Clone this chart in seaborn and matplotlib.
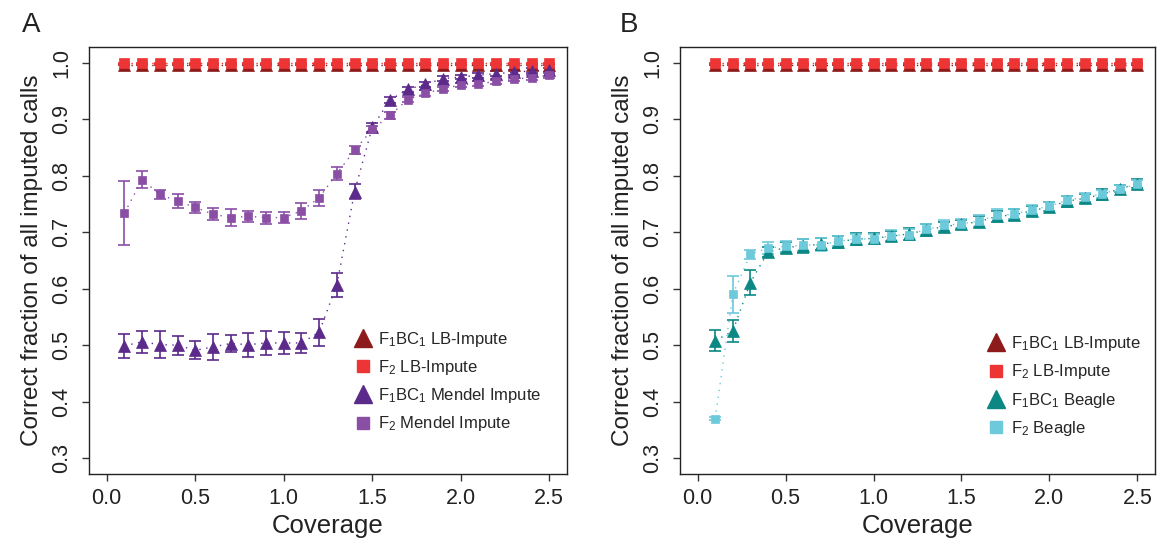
import numpy as np
import pandas as pd
import matplotlib
matplotlib.use("Agg")
import matplotlib.pyplot as plt
import seaborn as sns
from matplotlib.lines import Line2D

# Data

coverage = [0.1, 0.2, 0.3, 0.4, 0.5, 0.6, 0.7, 0.8, 0.9, 1.0, 1.1, 1.2, 1.3,
            1.4, 1.5, 1.6, 1.7, 1.8, 1.9, 2.0, 2.1, 2.2, 2.3, 2.4, 2.5]

lb_f1bc1 = [0.997] * 25
lb_f2 = [0.999] * 25
lb_f1bc1_err = [0.001] * 25
lb_f2_err = [0.001] * 25

mendel_f1bc1 = [0.499, 0.506, 0.501, 0.500, 0.491, 0.497, 0.503, 0.501, 0.504,
                0.504, 0.504, 0.523, 0.607, 0.772, 0.886, 0.934, 0.953, 0.962,
                0.972, 0.975, 0.978, 0.981, 0.983, 0.986, 0.987]
mendel_f1bc1_err = [0.0215, 0.019, 0.0235, 0.017, 0.016, 0.0226, 0.0147, 0.021,
                    0.0206, 0.0197, 0.0176, 0.024, 0.0215, 0.0135, 0.008, 0.006,
                    0.005, 0.004, 0.004, 0.004, 0.004, 0.004, 0.004, 0.004, 0.004]

mendel_f2 = [0.734, 0.793, 0.767, 0.755, 0.744, 0.732, 0.726, 0.728, 0.726,
             0.726, 0.738, 0.761, 0.804, 0.845, 0.882, 0.907, 0.935, 0.946,
             0.954, 0.961, 0.963, 0.967, 0.971, 0.974, 0.978]
mendel_f2_err = [0.0565, 0.015, 0.008, 0.0125, 0.010, 0.011, 0.0148, 0.010,
                 0.0105, 0.0095, 0.014, 0.0142, 0.0123, 0.007, 0.007, 0.006,
                 0.005, 0.005, 0.004, 0.004, 0.004, 0.004, 0.004, 0.004, 0.004]

beagle_f1bc1 = [0.508, 0.525, 0.611, 0.665, 0.673, 0.676, 0.679, 0.683, 0.688,
                0.689, 0.693, 0.697, 0.704, 0.710, 0.714, 0.719, 0.728, 0.731,
                0.738, 0.745, 0.755, 0.760, 0.767, 0.777, 0.786]
beagle_f1bc1_err = [0.019, 0.020, 0.022, 0.009, 0.010, 0.012, 0.011, 0.010,
                    0.010, 0.010, 0.009, 0.011, 0.011, 0.009, 0.008, 0.009,
                    0.010, 0.010, 0.009, 0.008, 0.010, 0.008, 0.009, 0.006, 0.008]

beagle_f2 = [0.370, 0.590, 0.661, 0.672, 0.675, 0.677, 0.678, 0.684, 0.688,
             0.688, 0.694, 0.696, 0.705, 0.712, 0.715, 0.720, 0.730, 0.732,
             0.740, 0.746, 0.757, 0.762, 0.768, 0.777, 0.785]
beagle_f2_err = [0.003, 0.033, 0.008, 0.010, 0.010, 0.011, 0.012, 0.009,
                 0.009, 0.009, 0.010, 0.010, 0.010, 0.009, 0.008, 0.010,
                 0.012, 0.009, 0.008, 0.008, 0.008, 0.008, 0.007, 0.006, 0.008]

label_lb_f1bc1 = r"F$_1$BC$_1$ LB-Impute"
label_lb_f2 = r"F$_2$ LB-Impute"
labels_a = [label_lb_f1bc1, label_lb_f2,
            r"F$_1$BC$_1$ Mendel Impute", r"F$_2$ Mendel Impute"]
labels_b = [label_lb_f1bc1, label_lb_f2,
            r"F$_1$BC$_1$ Beagle", r"F$_2$ Beagle"]

# Colours

DARK_RED = "#8E1B1B"
RED = "#EE3535"
DARK_PURPLE = "#5C2A8A"
LIGHT_PURPLE = "#8A4FA5"
TEAL = "#0B8784"
LIGHT_BLUE = "#6CCADB"

# Style

sns.set_style("ticks")
plt.rcParams["font.family"] = ["Liberation Sans", "DejaVu Sans"]
plt.rcParams["mathtext.fontset"] = "custom"
plt.rcParams["mathtext.rm"] = "Liberation Sans"
plt.rcParams["mathtext.it"] = "Liberation Sans:italic"
plt.rcParams["mathtext.bf"] = "Liberation Sans:bold"

fig = plt.figure(figsize=(11.65, 5.46), dpi=100)
ax_a = fig.add_axes([0.0764, 0.1319, 0.4103, 0.782])
ax_b = fig.add_axes([0.5837, 0.1319, 0.4077, 0.782])


def draw_series(ax, y, err, color, marker, size):
    df = pd.DataFrame({"coverage": coverage, "value": y})
    ax.errorbar(df["coverage"], df["value"], yerr=err, fmt="none",
                ecolor=color, elinewidth=1.2, capsize=4, capthick=1.2, zorder=2)
    sns.lineplot(data=df, x="coverage", y="value", ax=ax, color=color,
                 linestyle=(0, (1, 4)), linewidth=1.0, marker=marker,
                 markersize=size, markeredgecolor=color, markeredgewidth=0.5,
                 errorbar=None, zorder=3)


def style_axes(ax, handles, labels, legend_anchor):
    ax.set_xlim(-0.1, 2.6)
    ax.set_ylim(0.272, 1.028)
    ax.set_xticks([0.0, 0.5, 1.0, 1.5, 2.0, 2.5])
    ax.set_xticklabels(["0.0", "0.5", "1.0", "1.5", "2.0", "2.5"])
    ax.set_yticks([0.3, 0.4, 0.5, 0.6, 0.7, 0.8, 0.9, 1.0])
    ax.set_yticklabels(["0.3", "0.4", "0.5", "0.6", "0.7", "0.8", "0.9", "1.0"],
                       rotation=90, va="center")
    ax.tick_params(axis="both", direction="out", length=5, width=1,
                   labelsize=15.5, colors="#333333", labelcolor="#222222")
    ax.tick_params(axis="x", pad=5)
    ax.tick_params(axis="y", pad=7)
    for side in ["top", "right", "bottom", "left"]:
        ax.spines[side].set_visible(True)
        ax.spines[side].set_linewidth(1.0)
        ax.spines[side].set_color("#222222")
    ax.set_xlabel("Coverage", fontsize=18.5, color="#222222", labelpad=4)
    ax.set_ylabel("Correct fraction of all imputed calls", fontsize=17.5,
                  color="#222222", labelpad=6)
    ax.legend(handles, labels, loc="lower left", bbox_to_anchor=legend_anchor,
              frameon=False, fontsize=12, handlelength=1.0, handletextpad=0.4,
              labelspacing=0.55, borderpad=0, borderaxespad=0)


# Panel A: LB-Impute vs Mendel Impute

draw_series(ax_a, lb_f1bc1, lb_f1bc1_err, DARK_RED, "^", 8)
draw_series(ax_a, lb_f2, lb_f2_err, RED, "s", 7)
draw_series(ax_a, mendel_f1bc1, mendel_f1bc1_err, DARK_PURPLE, "^", 8)
draw_series(ax_a, mendel_f2, mendel_f2_err, LIGHT_PURPLE, "s", 5.5)

handles_a = [
    Line2D([], [], color=DARK_RED, marker="^", linestyle="none", markersize=13),
    Line2D([], [], color=RED, marker="s", linestyle="none", markersize=9),
    Line2D([], [], color=DARK_PURPLE, marker="^", linestyle="none", markersize=13),
    Line2D([], [], color=LIGHT_PURPLE, marker="s", linestyle="none", markersize=9),
]
style_axes(ax_a, handles_a, labels_a, (0.555, 0.095))

# Panel B: LB-Impute vs Beagle

draw_series(ax_b, lb_f1bc1, lb_f1bc1_err, DARK_RED, "^", 8)
draw_series(ax_b, lb_f2, lb_f2_err, RED, "s", 7)
draw_series(ax_b, beagle_f1bc1, beagle_f1bc1_err, TEAL, "^", 8)
draw_series(ax_b, beagle_f2, beagle_f2_err, LIGHT_BLUE, "s", 5.5)

handles_b = [
    Line2D([], [], color=DARK_RED, marker="^", linestyle="none", markersize=13),
    Line2D([], [], color=RED, marker="s", linestyle="none", markersize=9),
    Line2D([], [], color=TEAL, marker="^", linestyle="none", markersize=13),
    Line2D([], [], color=LIGHT_BLUE, marker="s", linestyle="none", markersize=9),
]
style_axes(ax_b, handles_b, labels_b, (0.648, 0.085))

fig.text(0.019, 0.955, "A", fontsize=20, color="#222222", va="center")
fig.text(0.532, 0.955, "B", fontsize=20, color="#222222", va="center")

fig.savefig("out.png", dpi=100)
plt.close(fig)
